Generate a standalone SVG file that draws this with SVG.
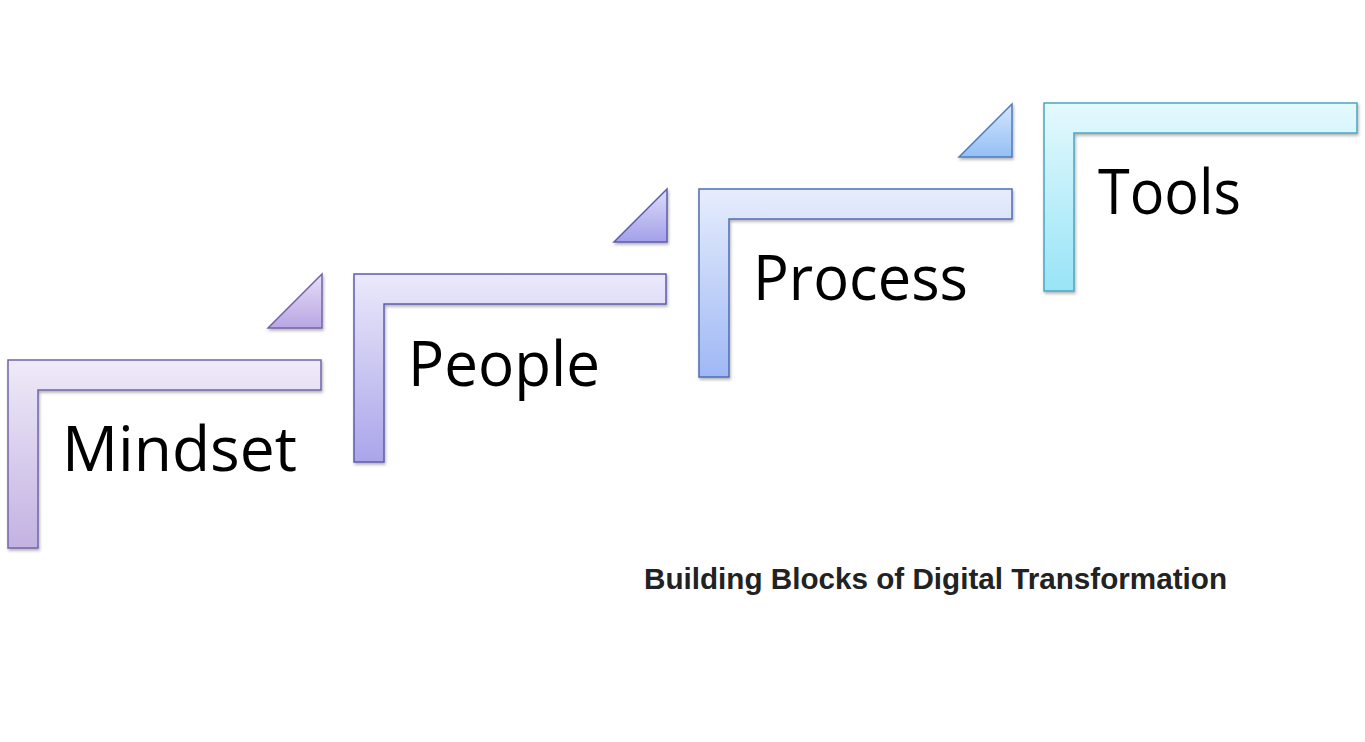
<svg xmlns="http://www.w3.org/2000/svg" width="1365" height="742" viewBox="0 0 1365 742">
<defs>
<linearGradient id="gM" x1="0" y1="0" x2="0" y2="1"><stop offset="0" stop-color="#efeaf8"/><stop offset="1" stop-color="#c3b2e2"/></linearGradient>
<linearGradient id="gMt" x1="0" y1="0" x2="0" y2="1"><stop offset="0" stop-color="#e6def6"/><stop offset="1" stop-color="#b9a6e4"/></linearGradient>
<linearGradient id="gP" x1="0" y1="0" x2="0" y2="1"><stop offset="0" stop-color="#ebe9fa"/><stop offset="1" stop-color="#aaa5ea"/></linearGradient>
<linearGradient id="gPt" x1="0" y1="0" x2="0" y2="1"><stop offset="0" stop-color="#dedcf8"/><stop offset="1" stop-color="#a3a0ea"/></linearGradient>
<linearGradient id="gR" x1="0" y1="0" x2="0" y2="1"><stop offset="0" stop-color="#e6edfc"/><stop offset="1" stop-color="#9fb8f5"/></linearGradient>
<linearGradient id="gRt" x1="0" y1="0" x2="0" y2="1"><stop offset="0" stop-color="#d3e6fc"/><stop offset="1" stop-color="#93c0f5"/></linearGradient>
<linearGradient id="gT" x1="0" y1="0" x2="0" y2="1"><stop offset="0" stop-color="#e4f9fd"/><stop offset="1" stop-color="#98e4f7"/></linearGradient>
<filter id="sh" x="-10%" y="-10%" width="120%" height="120%"><feDropShadow dx="1" dy="2" stdDeviation="1.5" flood-color="#000" flood-opacity="0.3"/></filter>
</defs>
<style>
.lbl{font-family:"Open Sans","Noto Sans",sans-serif;font-size:63px;fill:#000}
.title{font-family:"Liberation Sans",Arial,sans-serif;font-weight:bold;font-size:29.5px;fill:#222}
path,polygon{stroke-width:1.5;filter:url(#sh)}
</style>
<g id="mindset">
<polygon points="268,328 322,328 322,274" fill="url(#gMt)" stroke="#7464a8"/>
<path d="M8,360 H321 V390 H38 V548 H8 Z" fill="url(#gM)" stroke="#7464a8"/>
<text class="lbl" x="62" y="471" textLength="235" lengthAdjust="spacingAndGlyphs">Mindset</text>
</g>
<g id="people">
<polygon points="614,242 667,242 667,189" fill="url(#gPt)" stroke="#5e5cae"/>
<path d="M354,274 H666 V304 H384 V462 H354 Z" fill="url(#gP)" stroke="#5e5cae"/>
<text class="lbl" x="408" y="386" textLength="192" lengthAdjust="spacingAndGlyphs">People</text>
</g>
<g id="process">
<polygon points="959,157 1012,157 1012,104" fill="url(#gRt)" stroke="#4f7cbc"/>
<path d="M699,189 H1012 V219 H729 V377 H699 Z" fill="url(#gR)" stroke="#4f6cb8"/>
<text class="lbl" x="753" y="300" textLength="215" lengthAdjust="spacingAndGlyphs">Process</text>
</g>
<g id="tools">
<path d="M1044,103 H1357 V133 H1074 V291 H1044 Z" fill="url(#gT)" stroke="#4aa6c2"/>
<text class="lbl" x="1098" y="214" textLength="143" lengthAdjust="spacingAndGlyphs">Tools</text>
</g>
<text class="title" x="644" y="589" textLength="583" lengthAdjust="spacingAndGlyphs">Building Blocks of Digital Transformation</text>
</svg>
